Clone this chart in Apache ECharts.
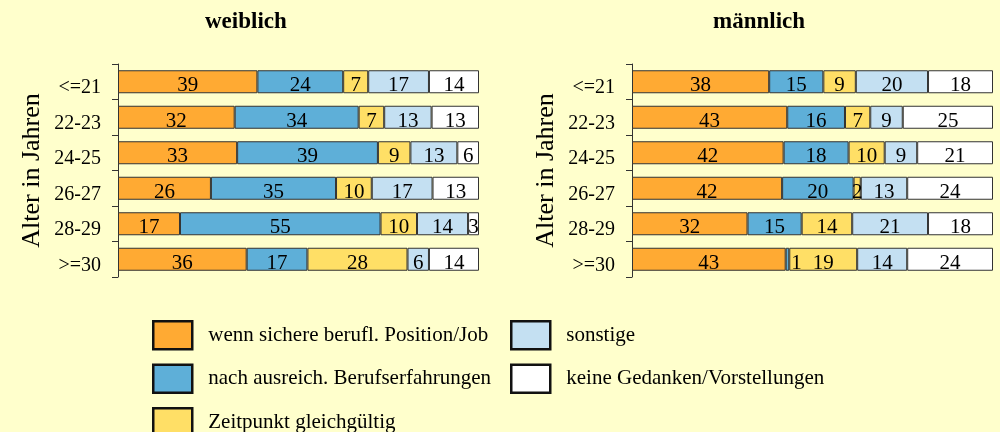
<!DOCTYPE html>
<html>
<head>
<meta charset="utf-8">
<script src="https://cdn.jsdelivr.net/npm/echarts@6/dist/echarts.min.js"></script>
<style>
  html, body { margin: 0; padding: 0; background: #ffffcc; }
</style>
</head>
<body>
<div id="myChart" style="width:1000px;height:432px"></div>
<script>
var ages = ['<=21', '22-23', '24-25', '26-27', '28-29', '>=30']
var groups = ['wenn sichere berufl. Position/Job', 'nach ausreich. Berufserfahrungen', 'Zeitpunkt gleichgültig', 'sonstige', 'keine Gedanken/Vorstellungen']

// Prozentwerte je Altersgruppe, Reihenfolge wie groups
var weiblich = [
  [39, 24, 7, 17, 14],
  [32, 34, 7, 13, 13],
  [33, 39, 9, 13, 6],
  [26, 35, 10, 17, 13],
  [17, 55, 10, 14, 3],
  [36, 17, 28, 6, 14]
]
var maennlich = [
  [38, 15, 9, 20, 18],
  [43, 16, 7, 9, 25],
  [42, 18, 10, 9, 21],
  [42, 20, 2, 13, 24],
  [32, 15, 14, 21, 18],
  [43, 1, 19, 14, 24]
]

var colors = ['#ffaa33', '#5eafd8', '#ffdf66', '#c4e0f2', '#ffffff']
var font = '"Liberation Serif", "DejaVu Serif", serif'

function makeSeries (rows, idx) {
  return groups.map(function (name, g) {
    return {
      name: name,
      type: 'bar',
      stack: 'p' + idx,
      xAxisIndex: idx,
      yAxisIndex: idx,
      barWidth: 23,
      itemStyle: { color: colors[g], borderColor: '#333', borderWidth: 1 },
      label: {
        show: true,
        position: 'inside',
        color: '#000',
        fontFamily: font,
        fontSize: 21,
        offset: [0, 4]
      },
      data: rows.map(function (r) {
        var sum = r.reduce(function (a, b) { return a + b }, 0)
        var item = { value: r[g] * 100 / sum }
        if (r[g] < 2) item.label = { offset: [9, 4] }
        return item
      })
    }
  })
}

function labelFmt (rows) {
  return function (p) { return rows[p.dataIndex][p.seriesIndex % 5] }
}

var series = makeSeries(weiblich, 0).concat(makeSeries(maennlich, 1))
series.forEach(function (s, i) {
  s.label.formatter = labelFmt(i < 5 ? weiblich : maennlich)
})

function yAxis (idx) {
  return {
    type: 'category',
    gridIndex: idx,
    data: ages,
    inverse: true,
    offset: 1,
    name: 'Alter in Jahren',
    nameLocation: 'middle',
    nameGap: 72,
    nameTextStyle: { fontFamily: font, fontSize: 26, color: '#000' },
    axisLine: { show: true, lineStyle: { color: '#333', width: 1 } },
    axisTick: { show: true, length: 6, lineStyle: { color: '#333', width: 1 } },
    axisLabel: { fontFamily: font, fontSize: 20, color: '#000', margin: 16, verticalAlign: 'top', lineHeight: 12 }
  }
}

function xAxis (idx) {
  return { type: 'value', gridIndex: idx, min: 0, max: 100, show: false }
}

function legend (names, left) {
  return {
    data: names,
    orient: 'vertical',
    left: left,
    top: 320,
    height: 140,
    padding: 0,
    icon: 'rect',
    itemWidth: 39,
    itemHeight: 28,
    itemGap: 13,
    itemStyle: { borderColor: '#111', borderWidth: 2.5 },
    textStyle: { fontFamily: font, fontSize: 21, color: '#000', padding: [0, 0, 0, 11] }
  }
}

var myChart = echarts.init(document.getElementById('myChart'))
myChart.setOption({
  backgroundColor: '#ffffcc',
  animation: false,
  title: [
    { text: 'weiblich', left: 200, top: 6, textStyle: { fontFamily: font, fontSize: 23, fontWeight: 'bold', color: '#000' } },
    { text: 'männlich', left: 708, top: 6, textStyle: { fontFamily: font, fontSize: 23, fontWeight: 'bold', color: '#000' } }
  ],
  legend: [legend(groups.slice(0, 3), 152), legend(groups.slice(3), 510)],
  grid: [
    { left: 118, top: 64, width: 361, height: 213 },
    { left: 632, top: 64, width: 361, height: 213 }
  ],
  xAxis: [xAxis(0), xAxis(1)],
  yAxis: [yAxis(0), yAxis(1)],
  series: series
})
</script>
</body>
</html>
